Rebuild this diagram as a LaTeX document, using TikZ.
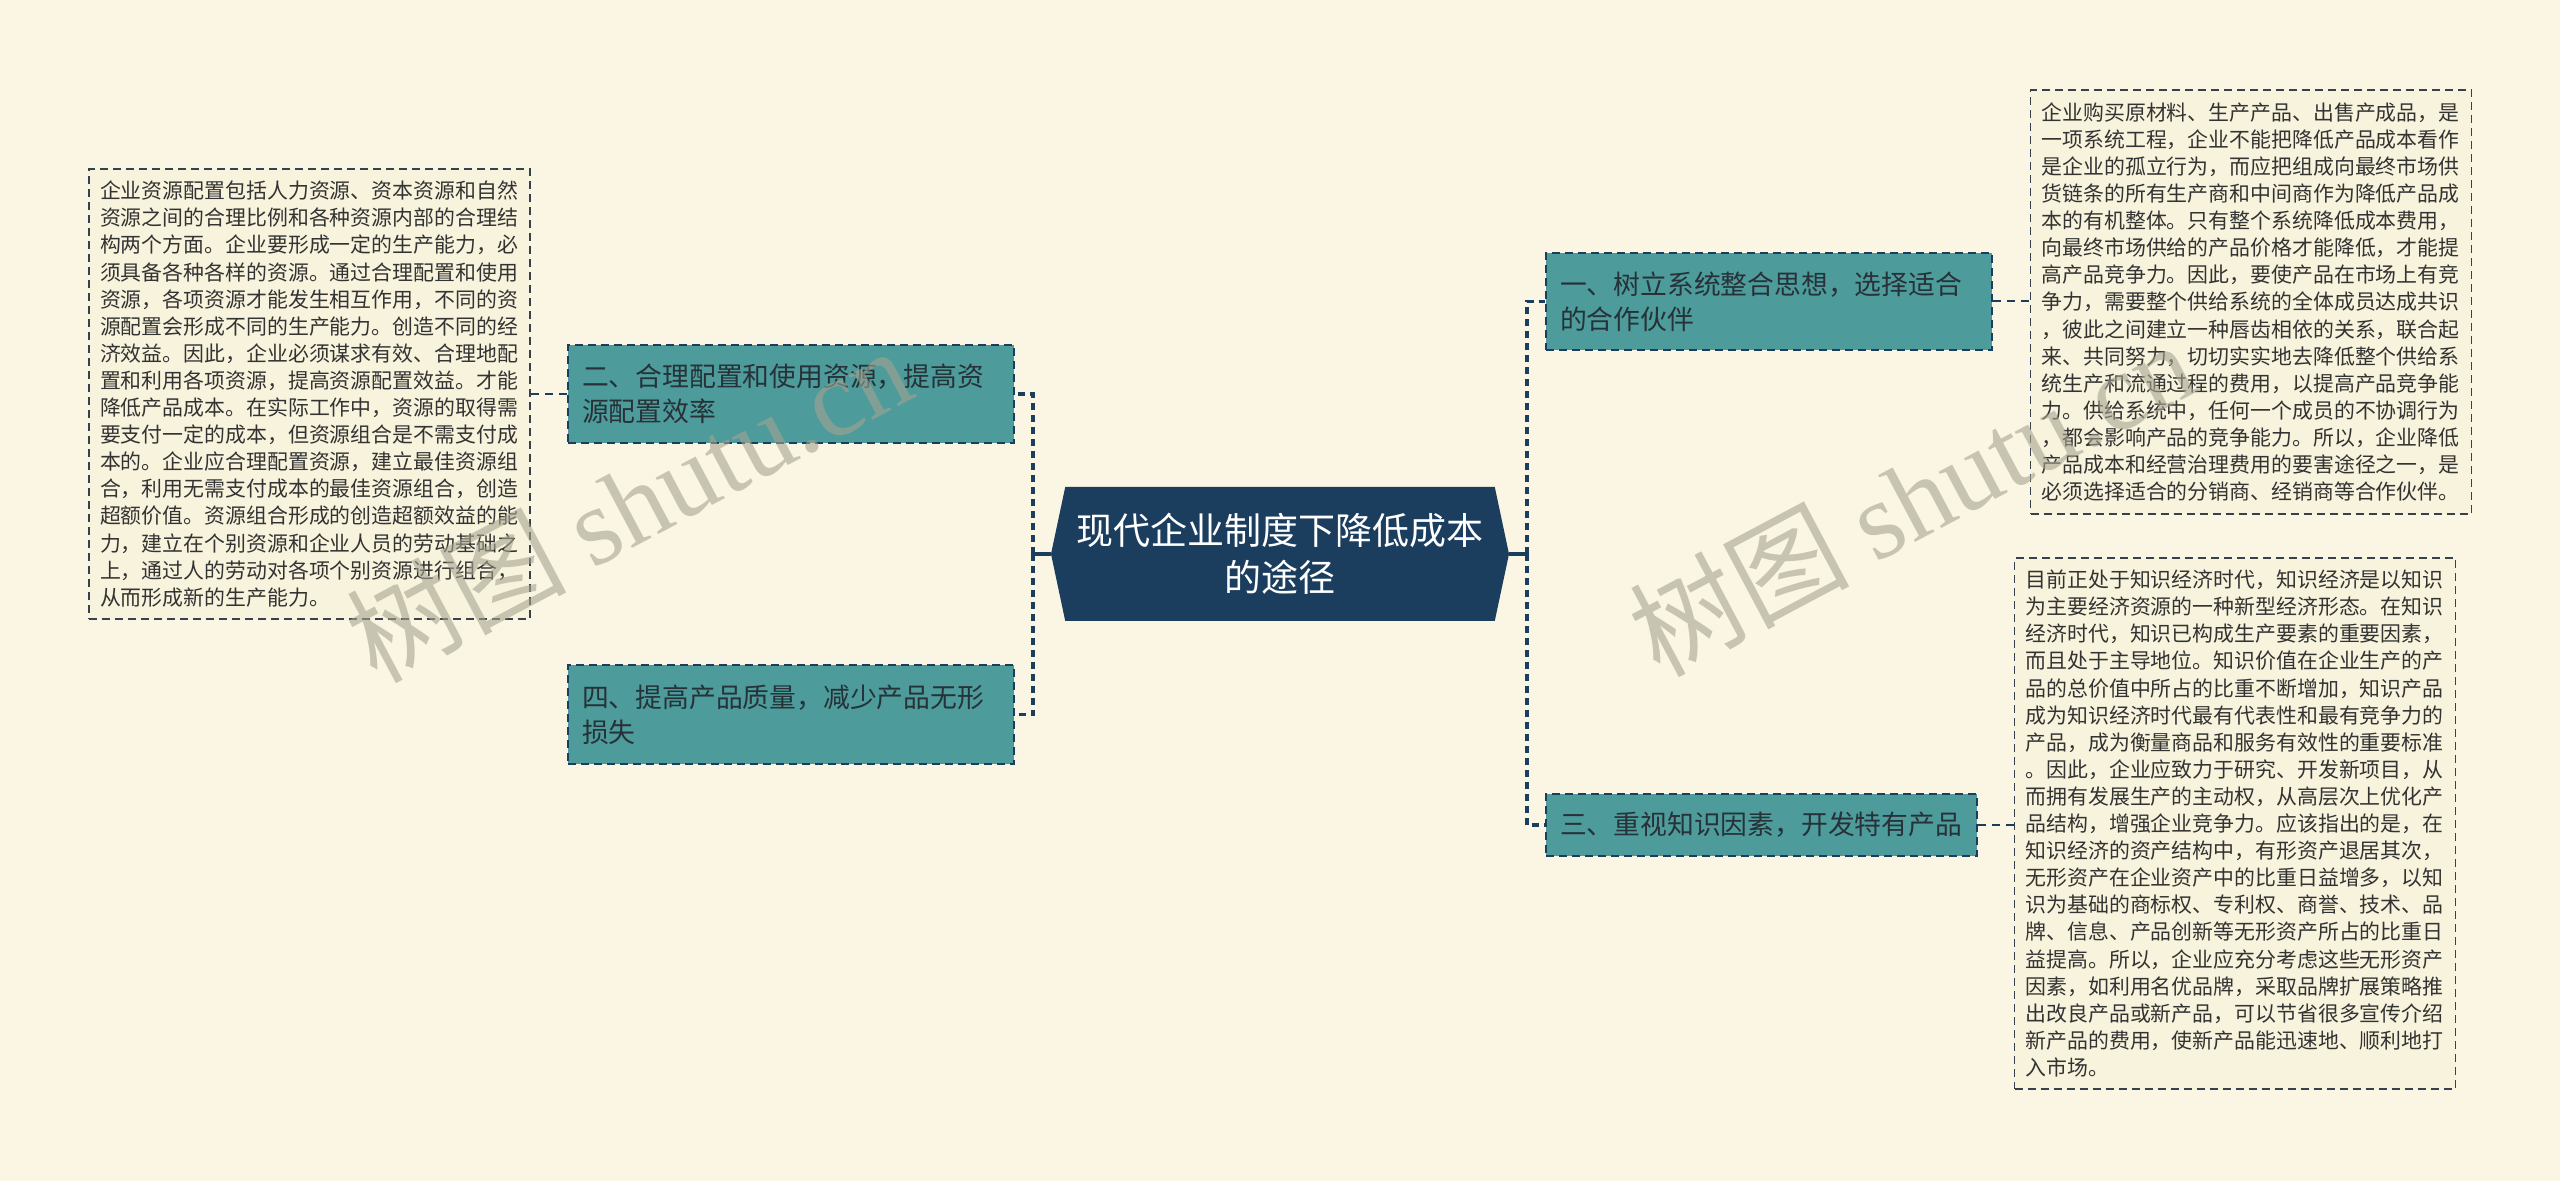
\documentclass[tikz,border=0pt]{standalone}
\usepackage{fontspec}
\newfontfamily\cjk{Noto Sans CJK SC}
\newfontfamily\wmserif{Liberation Serif}
\usetikzlibrary{shapes.symbols}

\definecolor{paper}{RGB}{250,246,227}
\definecolor{notefill}{RGB}{248,243,220}
\definecolor{navy}{RGB}{27,61,94}
\definecolor{branchteal}{RGB}{77,155,155}
\definecolor{branchink}{RGB}{38,50,56}
\definecolor{noteink}{RGB}{51,51,51}
\definecolor{noteline}{RGB}{55,65,78}
\definecolor{wmgray}{RGB}{165,163,145}

\tikzset{
  topic/.style={signal, signal to=west and east, signal pointer angle=156,
    fill=navy, text=white, font=\cjk\fontsize{18.5}{23.5}\selectfont,
    align=center, text width=210pt, inner sep=0pt,
    minimum width=229pt, minimum height=67pt},
  branch/.style={draw=navy, line width=0.9pt, dash pattern=on 4pt off 2.5pt,
    fill=branchteal, text=branchink, font=\cjk\fontsize{13.4}{17.5}\selectfont,
    align=left, inner xsep=7pt, inner ysep=0pt, text width=209pt},
  detail/.style={draw=noteline, line width=0.8pt, dash pattern=on 4pt off 2.5pt,
    fill=notefill, text=noteink, font=\cjk\fontsize{10.45}{13.55}\selectfont,
    align=left, inner xsep=5.5pt, inner ysep=0pt, text width=209.5pt},
  stub/.style={navy, line width=1.6pt},
  trunk/.style={navy, line width=1.6pt, dash pattern=on 3.5pt off 2.5pt},
  twig/.style={navy, line width=1pt, dash pattern=on 4pt off 3pt},
  wmark/.style={text=wmgray, opacity=0.6, font=\fontsize{55}{55}\selectfont, inner sep=0pt}
}

\begin{document}
\begin{tikzpicture}[x=0.5pt, y=-0.5pt]
  \fill[paper] (0,0) rectangle (2560,1181);
  \useasboundingbox (0,0) rectangle (2560,1181);

  % centre topic
  \node[topic] (ctr) at (1280,554) {现代企业制度下降低成本\\的途径};

  % branches
  \node[branch, minimum height=48.5pt] (b1) at (1769,301.5) {一、树立系统整合思想，选择适合\\的合作伙伴};
  \node[branch, minimum height=49pt] (b2) at (791,394) {二、合理配置和使用资源，提高资\\源配置效率};
  \node[branch, minimum height=31pt, text width=201.5pt] (b3) at (1761.5,825) {三、重视知识因素，开发特有产品};
  \node[branch, minimum height=49.5pt] (b4) at (791,714.5) {四、提高产品质量，减少产品无形\\损失};

  % details
  \node[detail, minimum height=212pt] (d1) at (2251,302) {企业购买原材料、生产产品、出售产成品，是\\一项系统工程，企业不能把降低产品成本看作\\是企业的孤立行为，而应把组成向最终市场供\\货链条的所有生产商和中间商作为降低产品成\\本的有机整体。只有整个系统降低成本费用，\\向最终市场供给的产品价格才能降低，才能提\\高产品竞争力。因此，要使产品在市场上有竞\\争力，需要整个供给系统的全体成员达成共识\\，彼此之间建立一种唇齿相依的关系，联合起\\来、共同努力，切切实实地去降低整个供给系\\统生产和流通过程的费用，以提高产品竞争能\\力。供给系统中，任何一个成员的不协调行为\\，都会影响产品的竞争能力。所以，企业降低\\产品成本和经营治理费用的要害途径之一，是\\必须选择适合的分销商、经销商等合作伙伴。};
  \node[detail, minimum height=225pt] (d2) at (309.5,394) {企业资源配置包括人力资源、资本资源和自然\\资源之间的合理比例和各种资源内部的合理结\\构两个方面。企业要形成一定的生产能力，必\\须具备各种各样的资源。通过合理配置和使用\\资源，各项资源才能发生相互作用，不同的资\\源配置会形成不同的生产能力。创造不同的经\\济效益。因此，企业必须谋求有效、合理地配\\置和利用各项资源，提高资源配置效益。才能\\降低产品成本。在实际工作中，资源的取得需\\要支付一定的成本，但资源组合是不需支付成\\本的。企业应合理配置资源，建立最佳资源组\\合，利用无需支付成本的最佳资源组合，创造\\超额价值。资源组合形成的创造超额效益的能\\力，建立在个别资源和企业人员的劳动基础之\\上，通过人的劳动对各项个别资源进行组合，\\从而形成新的生产能力。};
  \node[detail, minimum height=265.5pt] (d3) at (2235,823.5) {目前正处于知识经济时代，知识经济是以知识\\为主要经济资源的一种新型经济形态。在知识\\经济时代，知识已构成生产要素的重要因素，\\而且处于主导地位。知识价值在企业生产的产\\品的总价值中所占的比重不断增加，知识产品\\成为知识经济时代最有代表性和最有竞争力的\\产品，成为衡量商品和服务有效性的重要标准\\。因此，企业应致力于研究、开发新项目，从\\而拥有发展生产的主动权，从高层次上优化产\\品结构，增强企业竞争力。应该指出的是，在\\知识经济的资产结构中，有形资产退居其次，\\无形资产在企业资产中的比重日益增多，以知\\识为基础的商标权、专利权、商誉、技术、品\\牌、信息、产品创新等无形资产所占的比重日\\益提高。所以，企业应充分考虑这些无形资产\\因素，如利用名优品牌，采取品牌扩展策略推\\出改良产品或新产品，可以节省很多宣传介绍\\新产品的费用，使新产品能迅速地、顺利地打\\入市场。};

  % junctions
  \coordinate (lj) at (1033,554);
  \coordinate (rj) at (1527,554);

  \draw[stub] (ctr.west) -- (lj);
  \draw[stub] (ctr.east) -- (rj);
  \draw[trunk] (lj) |- (b2.east);
  \draw[trunk] (lj) |- (b4.east);
  \draw[trunk] (rj) |- (b1.west);
  \draw[trunk] (rj) |- (b3.west);

  \draw[twig] (b1.east) -- (d1.west |- b1.east);
  \draw[twig] (b2.west) -- (d2.east |- b2.west);
  \draw[twig] (b3.east) -- (d3.west |- b3.east);

  % watermarks
  \node[wmark, rotate=28] (wm1) at (628,503) {\cjk 树图 \wmserif shutu.cn};
  \node[wmark, rotate=28] (wm2) at (1911,497) {\cjk 树图 \wmserif shutu.cn};
\end{tikzpicture}
\end{document}
